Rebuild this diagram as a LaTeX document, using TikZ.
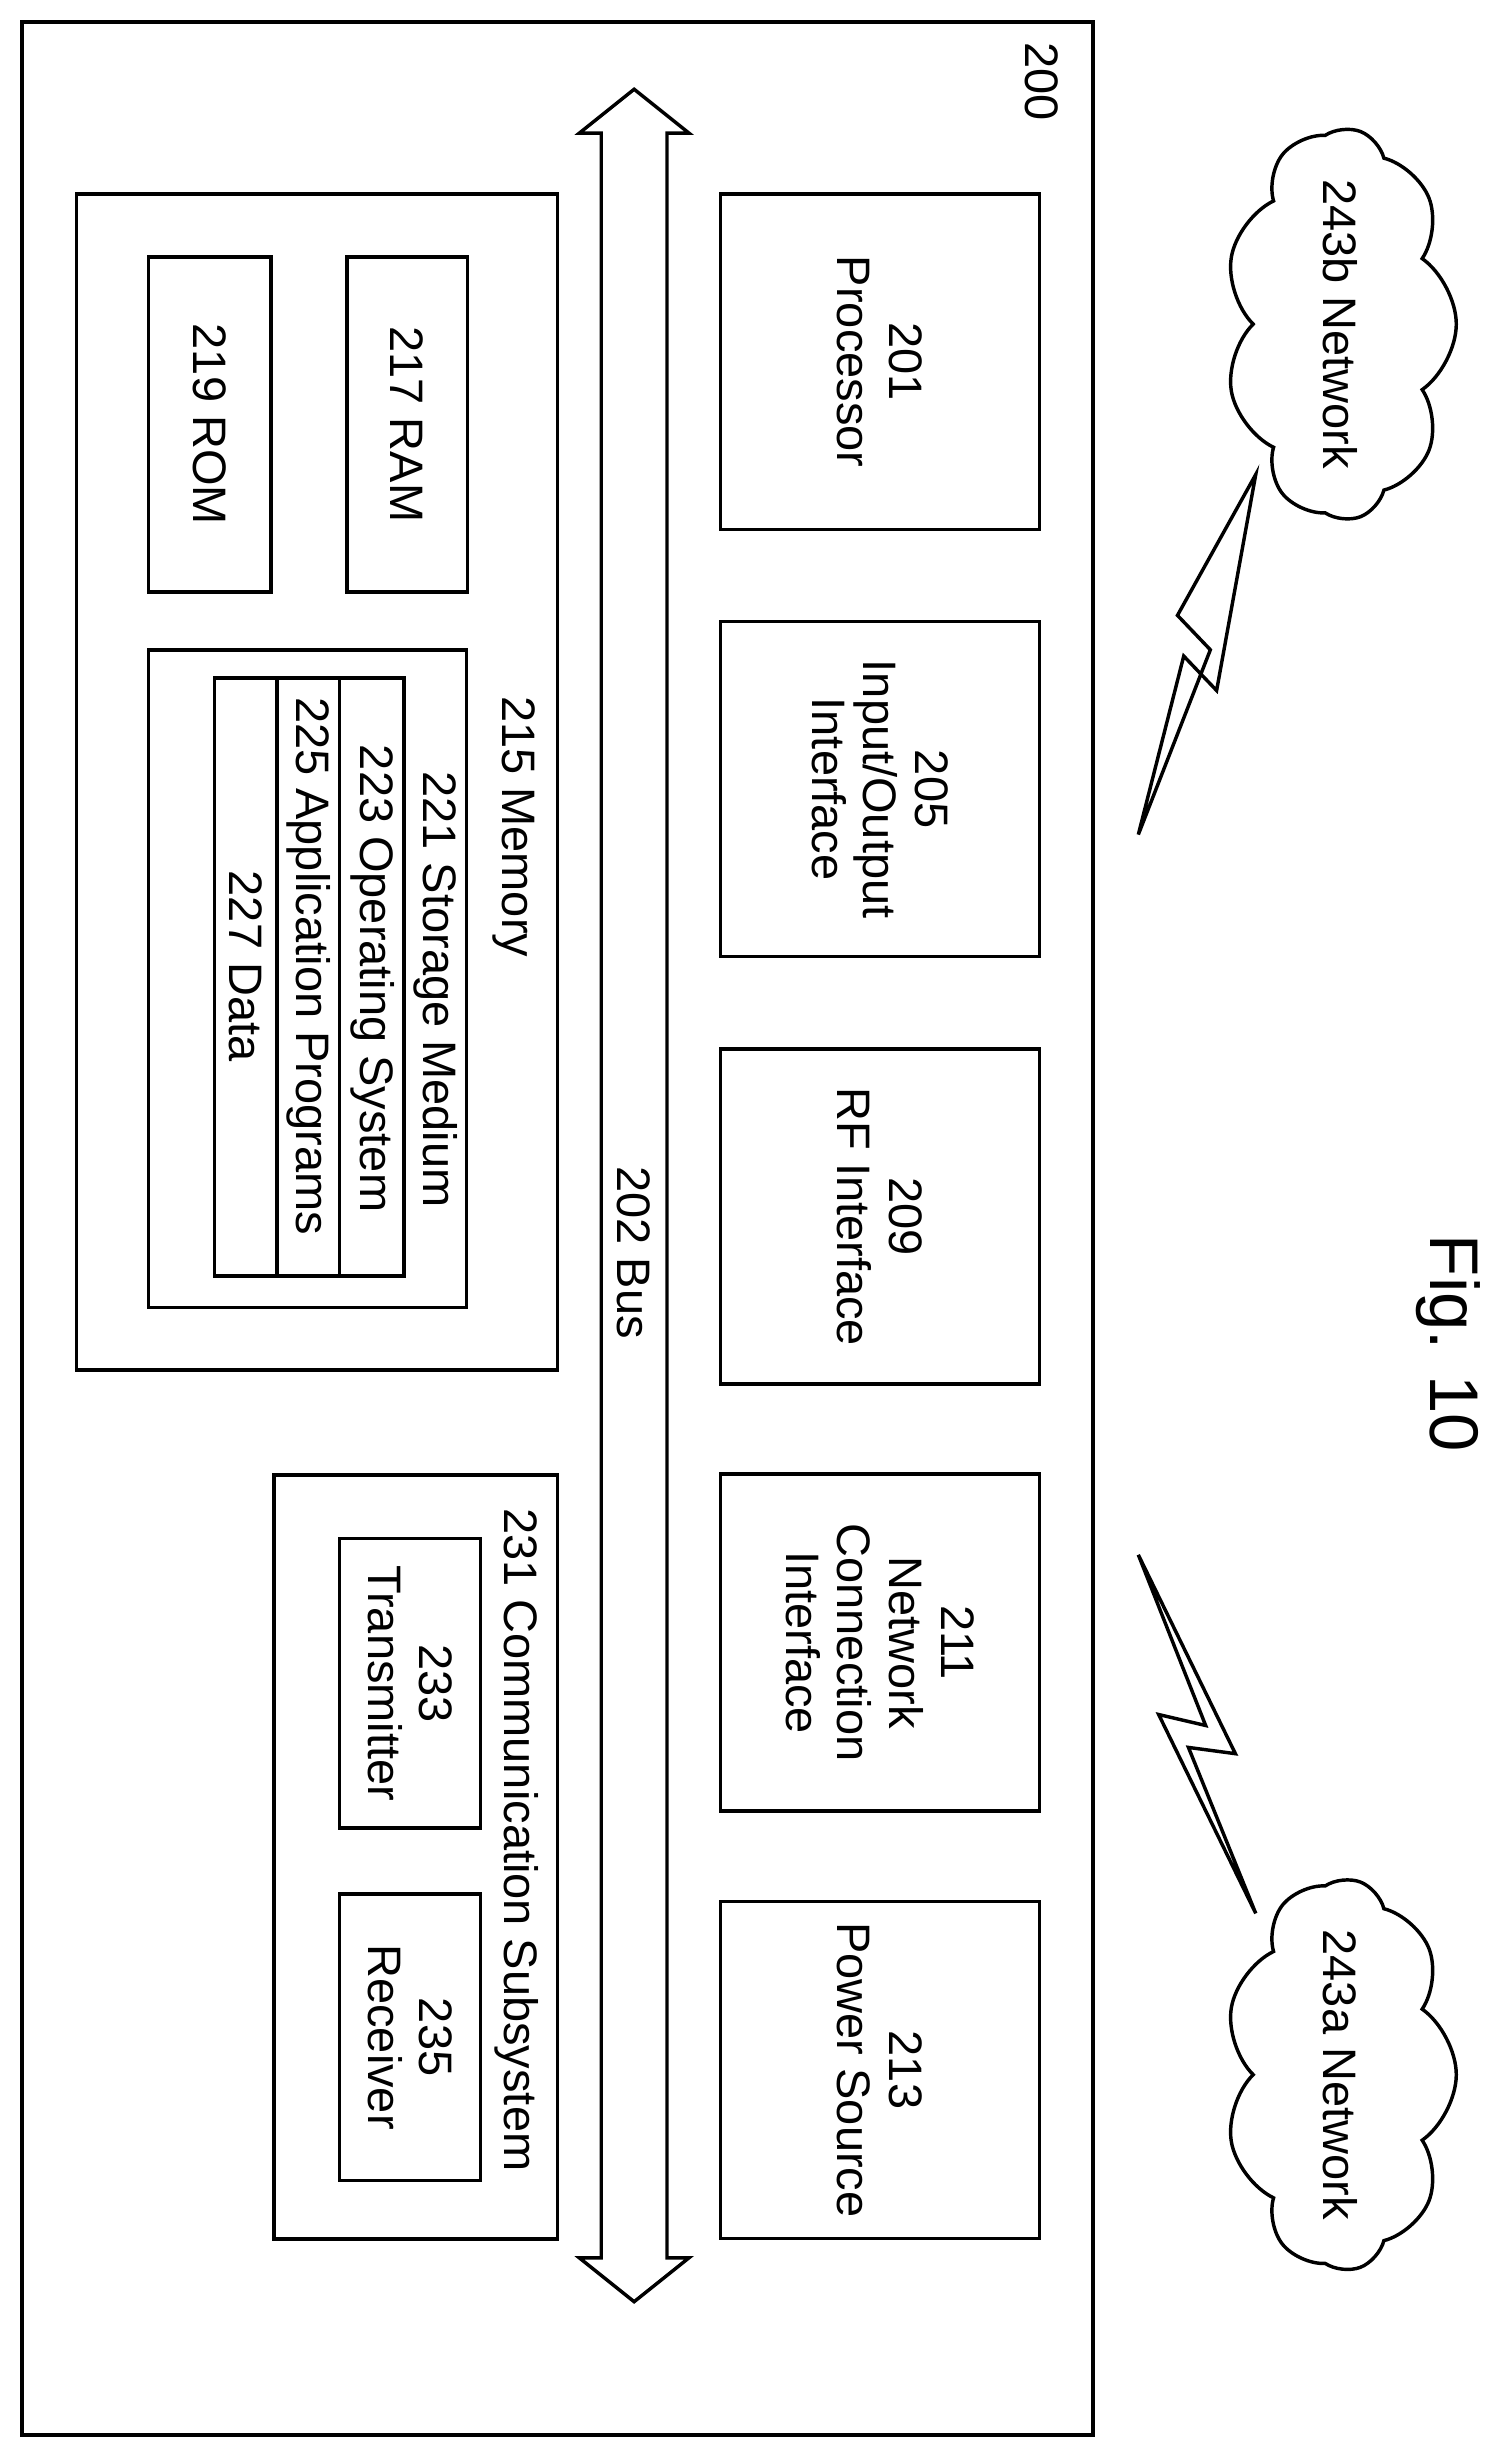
\documentclass[tikz,border=0pt]{standalone}
\usepackage{fontspec}
\setmainfont{Liberation Sans}
\usetikzlibrary{shapes.symbols}

\tikzset{every picture/.style={line width=2.2pt}}
\tikzset{box/.style={draw,rotate=-90,align=center,inner sep=0pt,font=\fontsize{30}{33}\selectfont}}
\tikzset{lbl/.style={rotate=-90,align=center,inner sep=0pt,font=\fontsize{30}{33}\selectfont}}
\tikzset{net/.style={draw,shape=cloud,rotate=-90,cloud puffs=9,cloud puff arc=110,aspect=2.2,inner sep=-6pt,font=\fontsize{30}{33}\selectfont}}

\begin{document}
\begin{tikzpicture}[x=1pt,y=1pt,yscale=-1,xscale=1]
\useasboundingbox (0,0) rectangle (960,1566);

%Outer frame
\draw (14,14) rectangle (698,1555);
\node[lbl] (n200) at (665,52) {200};

%Bus
\draw (405,57) -- (440,85) -- (426,85) -- (426,1442) -- (440,1442) -- (405,1470) -- (370,1442) -- (384,1442) -- (384,85) -- (370,85) -- cycle;
\node[lbl] (bus) at (405,800) {202 Bus};

%Right column
\node[box,minimum width=214,minimum height=204] (proc) at (562,231) {201\\Processor};
\node[box,minimum width=214,minimum height=204] (io) at (562,504) {205\\Input/Output\\Interface};
\node[box,minimum width=214,minimum height=204] (rf) at (562,777) {209\\RF Interface};
\node[box,minimum width=215,minimum height=204] (nci) at (562,1049) {211\\Network\\Connection\\Interface};
\node[box,minimum width=215,minimum height=204] (pwr) at (562,1322) {213\\Power Source};

%Memory
\draw (49,124) rectangle (356,875);
\node[lbl] (mem) at (328,528) {215 Memory};
\node[box,minimum width=214,minimum height=77] (ram) at (260,271) {217 RAM};
\node[box,minimum width=214,minimum height=78] (rom) at (134,271) {219 ROM};
\draw (95,415) rectangle (298,835);
\draw (137,433) rectangle (258,815);
\draw (177,433) -- (177,815);
\draw (217,433) -- (217,815);
\node[lbl] (sto) at (278,632) {221 Storage Medium};
\node[lbl] (os) at (238,625) {223 Operating System};
\node[lbl] (app) at (197,617) {225 Application Programs};
\node[lbl] (dat) at (157,617) {227 Data};

%Communication subsystem
\draw (175,942) rectangle (356,1430);
\node[lbl] (comm) at (330,1175) {231 Communication Subsystem};
\node[box,minimum width=185,minimum height=90] (tx) at (262,1075) {233\\Transmitter};
\node[box,minimum width=183,minimum height=90] (rx) at (262,1301) {235\\Receiver};

%Networks
\node[net] (netb) at (856,207) {243b Network};
\node[net] (neta) at (856,1325) {243a Network};
\draw[line join=miter] (802,303) -- (752,393) -- (773,415) -- (727,533) -- (756,419) -- (777,441) -- cycle;
\draw[line join=miter] (727,993) -- (770,1102) -- (740,1095) -- (802,1222) -- (759,1116) -- (789,1120) -- cycle;

\node[lbl,font=\fontsize{44}{48}\selectfont] (fig) at (925,858) {Fig. 10};
\end{tikzpicture}
\end{document}
